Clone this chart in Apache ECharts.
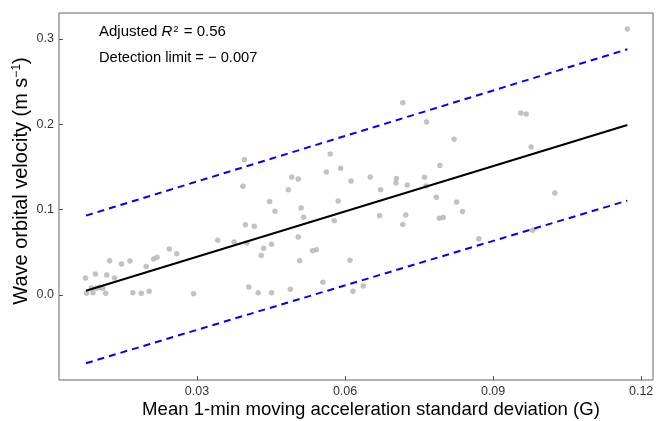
<!DOCTYPE html>
<html>
<head>
<meta charset="utf-8">
<script src="https://cdn.jsdelivr.net/npm/echarts@6/dist/echarts.min.js"></script>
<style>
html,body{margin:0;padding:0;background:#fff;}
#chart{width:657px;height:421px;}
</style>
</head>
<body>
<div id="chart"></div>
<script>
// ---- data ----
const xVals = [
  0.0074, 0.0094, 0.0117, 0.0123, 0.0133, 0.0147, 0.0164, 0.0197, 0.0212, 0.0219,
  0.0244, 0.0259, 0.0076, 0.0089, 0.0086, 0.0096, 0.0103, 0.0109, 0.0115, 0.0170,
  0.0187, 0.0203, 0.0293, 0.0342, 0.0375, 0.0396, 0.0393, 0.0398, 0.0416, 0.0401,
  0.0435, 0.0430, 0.0451, 0.0447, 0.0458, 0.0405, 0.0424, 0.0451, 0.0489, 0.0485,
  0.0492, 0.0505, 0.0511, 0.0516, 0.0505, 0.0508, 0.0534, 0.0542, 0.0555, 0.0570,
  0.0562, 0.0591, 0.0612, 0.0586, 0.0578, 0.0610, 0.0616, 0.0637, 0.0717, 0.0765,
  0.0821, 0.0792, 0.0651, 0.0672, 0.0704, 0.0703, 0.0726, 0.0761, 0.0764, 0.0785,
  0.0826, 0.0838, 0.0670, 0.0723, 0.0717, 0.0791, 0.0799, 0.0871, 0.0956, 0.0967,
  0.0977, 0.1025, 0.0980, 0.1172
];
const yVals = [
  0.0199, 0.0246, 0.0234, 0.0402, 0.0199, 0.0363, 0.0399, 0.0332, 0.0422, 0.0442,
  0.0539, 0.0484, 0.0020, 0.0027, 0.0082, 0.0079, 0.0090, 0.0079, 0.0020, 0.0027,
  0.0020, 0.0043, 0.0015, 0.0641, 0.0621, 0.1586, 0.1274, 0.0824, 0.0805, 0.0610,
  0.0547, 0.0461, 0.0594, 0.1094, 0.0981, 0.0094, 0.0027, 0.0027, 0.0067, 0.1234,
  0.1383, 0.1360, 0.1020, 0.0911, 0.0680, 0.0402, 0.0519, 0.0531, 0.0149, 0.1653,
  0.1442, 0.1485, 0.1336, 0.1102, 0.0871, 0.0407, 0.0043, 0.0106, 0.2254, 0.2028,
  0.1825, 0.1516, 0.1383, 0.1232, 0.1366, 0.1313, 0.1290, 0.1380, 0.1278, 0.1145,
  0.1090, 0.0977, 0.0927, 0.0938, 0.0826, 0.0900, 0.0909, 0.0660, 0.2134, 0.2122,
  0.1735, 0.1196, 0.0758, 0.3118
];
const fitX = [0.0075, 0.1172];
const fitY = [0.0050, 0.1993];
const upperY = [0.0930, 0.2880];
const lowerY = [-0.0800, 0.1106];
const xTicks = [0.03, 0.06, 0.09, 0.12];
const yTicks = [0.0, 0.1, 0.2, 0.3];
const xTitle = 'Mean 1-min moving acceleration standard deviation (G)';
const yTitle = '{a|Wave orbital velocity (m s}{s|\u22121}{a|)}';
const note1 = '{a|Adjusted }{i|R}{s|2}{a| = 0.56}';
const note2 = 'Detection limit = \u2212 0.007';

const FONT = 'Liberation Sans, Arial, Helvetica, sans-serif';
const chart = echarts.init(document.getElementById('chart'), null, {renderer: 'canvas'});

const pts = xVals.map((x, i) => [x, yVals[i]]);
const toPairs = (ys) => fitX.map((x, i) => [x, ys[i]]);

chart.setOption({
  animation: false,
  backgroundColor: '#fff',
  grid: {left: 59, right: 4, top: 13, bottom: 41, show: true, borderColor: '#666', borderWidth: 1},
  xAxis: {
    type: 'value', min: 0.00203, max: 0.1224,
    axisLine: {show: false, onZero: false},
    splitLine: {show: false},
    axisTick: {show: true, inside: true, length: 4, lineStyle: {color: '#555'}, customValues: xTicks},
    axisLabel: {customValues: xTicks, margin: 5, color: '#333', fontSize: 12.5, fontFamily: FONT,
      formatter: v => v.toFixed(2)}
  },
  yAxis: {
    type: 'value', min: -0.0997, max: 0.3305,
    axisLine: {show: false, onZero: false},
    splitLine: {show: false},
    axisTick: {show: true, inside: true, length: 4, lineStyle: {color: '#555'}, customValues: yTicks},
    axisLabel: {customValues: yTicks, margin: 5, color: '#333', fontSize: 12.5, fontFamily: FONT,
      formatter: v => v.toFixed(1)}
  },
  series: [
    {type: 'scatter', data: pts, symbolSize: 5.5, itemStyle: {color: '#b3b3b3'}, silent: true},
    {type: 'line', data: toPairs(upperY), symbol: 'none', lineStyle: {color: '#0000ff', width: 2, type: [7, 5]}},
    {type: 'line', data: toPairs(lowerY), symbol: 'none', lineStyle: {color: '#0000ff', width: 2, type: [7, 5]}},
    {type: 'line', data: toPairs(fitY), symbol: 'none', lineStyle: {color: '#000', width: 2}}
  ],
  graphic: [
    {type: 'text', x: 99, y: 32, style: {text: note1, fontFamily: FONT, verticalAlign: 'middle',
      rich: {a: {fontSize: 15, fontFamily: FONT, color: '#000'},
             i: {fontSize: 15, fontFamily: FONT, fontStyle: 'italic', color: '#000'},
             s: {fontSize: 9.5, fontFamily: FONT, color: '#000', verticalAlign: 'top', padding: [0, 1, 0, 1]}}}},
    {type: 'text', x: 99, y: 57.5, style: {text: note2, fontSize: 14.7, fontFamily: FONT, fill: '#000', verticalAlign: 'middle'}},
    {type: 'text', x: 371, y: 410, style: {text: xTitle, fontSize: 18.6, fontFamily: FONT, fill: '#000', align: 'center', verticalAlign: 'middle'}},
    {type: 'text', x: 21, y: 181, rotation: Math.PI / 2, style: {text: yTitle, fontFamily: FONT, align: 'center', verticalAlign: 'middle',
      rich: {a: {fontSize: 20, fontFamily: FONT, color: '#000'},
             s: {fontSize: 12, fontFamily: FONT, color: '#000', verticalAlign: 'top'}}}}
  ]
});
</script>
</body>
</html>
